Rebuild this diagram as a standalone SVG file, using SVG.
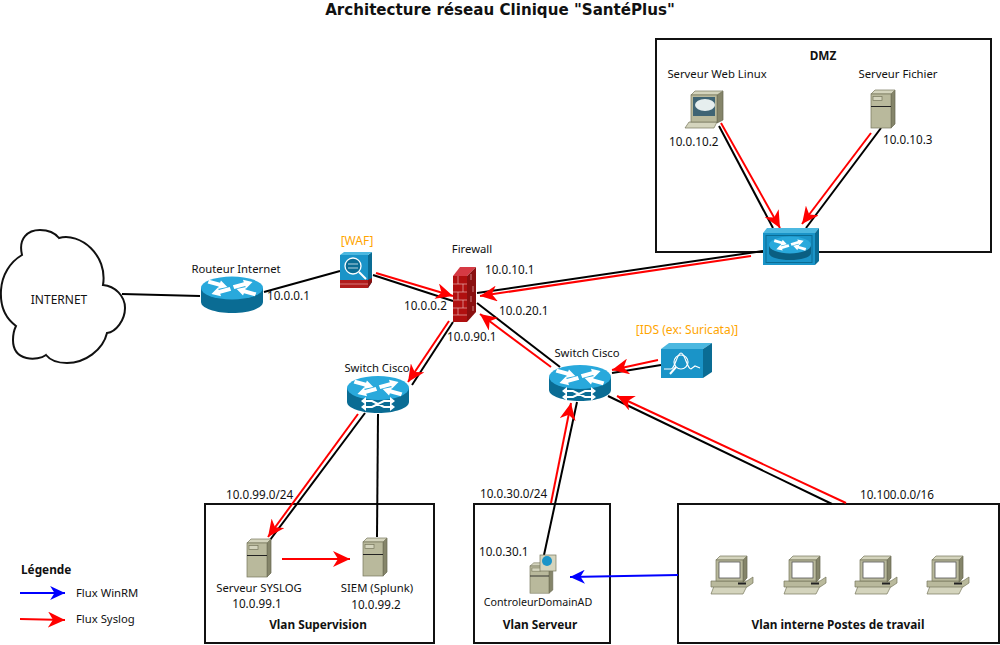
<svg xmlns="http://www.w3.org/2000/svg" xmlns:xlink="http://www.w3.org/1999/xlink" width="1000" height="645" viewBox="0 0 1000 645">
<style>
text{font-family:"Noto Sans","DejaVu Sans",sans-serif;font-size:11.300px;fill:#111}
.b{font-weight:bold;font-size:11.800px}
.o{fill:#ffa500;font-size:12px}
.n{font-size:11.700px}
.box{fill:#fff;stroke:#111;stroke-width:2}
.k{stroke:#000;stroke-width:2;fill:none}
.r{stroke:#f00;stroke-width:2;fill:none;marker-end:url(#ar)}
.u{stroke:#00f;stroke-width:2;fill:none;marker-end:url(#au)}
.t1{fill:#b9b99c;stroke:#77775c;stroke-width:.7}
.t2{fill:#d4d4bd;stroke:#77775c;stroke-width:.7}
.t3{fill:#85856a;stroke:#66664e;stroke-width:.7}
.sw{fill:none;stroke:#fff;stroke-width:2}
</style>
<defs>
<marker id="ar" viewBox="0 0 17 16" refX="17" refY="8" markerWidth="17" markerHeight="16" markerUnits="userSpaceOnUse" orient="auto"><path d="M0 0L17 8L0 16L5 8Z" fill="#f00"/></marker>
<marker id="au" viewBox="0 0 17 16" refX="17" refY="8" markerWidth="17" markerHeight="14" markerUnits="userSpaceOnUse" orient="auto"><path d="M0 0L17 8L0 16L5 8Z" fill="#00f"/></marker>
<g id="srv">
<path class="t3" d="M20 5L24 1V35L20 39Z"/>
<path class="t2" d="M0 5L4 1H24L20 5Z"/>
<rect class="t1" y="5" width="20" height="34"/>
<path d="M0 17.500H20" stroke="#222" stroke-width="1"/>
<rect class="t2" x="2" y="7.500" width="9" height="4"/>
</g>
<g id="pc">
<path class="t2" d="M3 30H36L32 38H0Z"/>
<path class="t1" d="M0 25H36L42 21V27L36 31H0Z"/>
<path class="t3" d="M32 4L36 0V22L32 26Z"/>
<path class="t2" d="M5 4L9 0H36L32 4Z"/>
<rect class="t1" x="5" y="4" width="27" height="21"/>
<rect x="8" y="6" width="21" height="16" fill="#fff" stroke="#555" stroke-width=".8"/>
<rect x="27" y="26.500" width="8" height="2" fill="#222"/>
</g>
<path id="arrows" d="M-10-2.200H1V-5L9 0L1 5V2.200H-10Z" fill="#fff"/>
<g id="rtop">
<use xlink:href="#arrows" transform="translate(-13,-4) rotate(18)"/>
<use xlink:href="#arrows" transform="translate(13,4) rotate(198)"/>
<use xlink:href="#arrows" transform="translate(11,-4) rotate(-18)"/>
<use xlink:href="#arrows" transform="translate(-11,4) rotate(162)"/>
</g>
<g id="swx">
<path class="sw" d="M-13-3H-6L6 3H13M-13 3H-6L6-3H13"/>
<path d="M-17-3L-12-7V1ZM-17 3L-12-1V7ZM17-3L12-7V1ZM17 3L12-1V7Z" fill="#fff"/>
</g>
</defs>
<text x="500" y="15" text-anchor="middle" class="b" style="font-family:'DejaVu Sans',sans-serif;font-size:15.100px">Architecture réseau Clinique "SantéPlus"</text>
<g id="dmz"><rect class="box" x="656" y="39" width="335" height="213"/><text x="823" y="60" text-anchor="middle" class="b">DMZ</text></g>
<g id="vlan-supervision"><rect class="box" x="205" y="504" width="229" height="139"/><text x="318" y="629" text-anchor="middle" class="b">Vlan Supervision</text></g>
<g id="vlan-serveur"><rect class="box" x="474" y="504" width="136" height="139"/><text x="540" y="629" text-anchor="middle" class="b">Vlan Serveur</text></g>
<g id="vlan-postes"><rect class="box" x="678" y="504" width="321" height="139"/><text x="838" y="629" text-anchor="middle" class="b">Vlan interne Postes de travail</text></g>
<g id="connectors">
<path class="k" d="M122 294L200 296"/>
<path class="k" d="M264 292L340 271"/>
<path class="k" d="M373 275L453 301"/>
<path class="k" d="M477 293L763 251"/>
<path class="k" d="M477 303L560 367"/>
<path class="k" d="M453 322L412 385"/>
<path class="k" d="M612 373L661 365"/>
<path class="k" d="M577 402L544 555"/>
<path class="k" d="M608 396L832 504"/>
<path class="k" d="M365 413L270 540"/>
<path class="k" d="M378 414L377 537"/>
<path class="k" d="M719 126L773 228"/>
<path class="k" d="M881 128L806 228"/>
<path class="r" d="M376 273L453 296"/>
<path class="r" d="M751 256L480 296"/>
<path class="r" d="M449 321L408 382"/>
<path class="r" d="M551 367L480 314"/>
<path class="r" d="M658 360L612 370"/>
<path class="r" d="M846 503L617 396"/>
<path class="r" d="M551 503L571 403"/>
<path class="r" d="M358 414L268 537"/>
<path class="r" d="M282 559L350 559"/>
<path class="r" d="M721 123L780 228"/>
<path class="r" d="M871 133L802 224"/>
<path class="u" d="M678 575L570 577"/>
</g>
<g id="internet">
<path d="M22 255C18 238 28 230 40 230C48 230 55 233 59 238C80 232 108 255 103 285C115 286 125 296 125 308C125 320 116 332 107 333C103 350 85 363 67 363C58 363 50 360 46 355C38 361 13 362 13 340C13 334 14 330 16 326C5 318 0 305 1 290C2 275 10 262 22 255Z" fill="#fff" stroke="#111" stroke-width="2"/>
<text x="59" y="304" text-anchor="middle" style="font-size:12px">INTERNET</text>
</g>
<g id="routeur-internet">
<text x="236" y="273" text-anchor="middle">Routeur Internet</text>
<path d="M201 288V302C201 308 215 313 232 313C249 313 263 308 263 302V288Z" fill="#0a6c94"/>
<ellipse cx="232" cy="288" rx="31" ry="11.500" fill="#29a9dc"/>
<use xlink:href="#rtop" transform="translate(232,288) scale(1.050,.9)"/>
<text x="267" y="300" class="n">10.0.0.1</text>
</g>
<g id="waf">
<text x="357" y="245" text-anchor="middle" class="o">[WAF]</text>
<path d="M368 255L372 252V282L368 288Z" fill="#0a6c94"/>
<path d="M340 255L344 252H372L368 255Z" fill="#4cb8e0"/>
<rect x="340" y="255" width="28" height="25" fill="#1a94c8"/>
<rect x="340" y="280" width="28" height="8" fill="#b11b1b"/>
<path d="M368 288L372 282V278L368 280Z" fill="#8a1010"/>
<path d="M340 284H368" stroke="#e6a0a0" stroke-width=".7"/>
<circle cx="353" cy="266" r="8" fill="#0a6c94" stroke="#fff" stroke-width="1.300"/>
<path d="M359 272L366 279" stroke="#fff" stroke-width="2"/>
<path d="M348 264H358M348 268H358" stroke="#fff" stroke-width=".7"/>
</g>
<g id="firewall">
<text x="472" y="253" text-anchor="middle">Firewall</text>
<path d="M453 276L460 267H476L467 276Z" fill="#d63a44"/>
<path d="M467 276L476 267V312L467 322Z" fill="#8a1010"/>
<rect x="453" y="276" width="14" height="46" fill="#b01010"/>
<path d="M453 284H467M453 292H467M453 300H467M453 308H467M453 315H467M458 276V284M463 284V292M458 292V300M463 300V308M458 308V315" stroke="#e6b0b0" stroke-width=".7"/>
<path d="M471 274V280M473 286V292M471 296V302M473 306V311" stroke="#e6b0b0" stroke-width=".7"/>
<text x="485" y="274" class="n">10.0.10.1</text>
<text x="404" y="310" class="n">10.0.0.2</text>
<text x="499" y="315" class="n">10.0.20.1</text>
<text x="447" y="341" class="n">10.0.90.1</text>
</g>
<g id="switch-supervision">
<path d="M347 388V402C347 408 361 413 378 413C395 413 409 408 409 402V388Z" fill="#0a6c94"/>
<ellipse cx="378" cy="388" rx="31" ry="12" fill="#29a9dc"/>
<use xlink:href="#rtop" transform="translate(378,388) scale(1.050,.9)"/>
<use xlink:href="#swx" transform="translate(378,404)"/>
<text x="377" y="372" text-anchor="middle">Switch Cisco</text>
</g>
<g id="switch-interne">
<path d="M549 377V390C549 396 563 401 580 401C597 401 611 396 611 390V377Z" fill="#0a6c94"/>
<ellipse cx="580" cy="377" rx="31" ry="12" fill="#29a9dc"/>
<use xlink:href="#rtop" transform="translate(580,377) scale(1.050,.9)"/>
<use xlink:href="#swx" transform="translate(579,394)"/>
<text x="587" y="357" text-anchor="middle">Switch Cisco</text>
</g>
<g id="ids">
<text x="687" y="334" text-anchor="middle" class="o">[IDS (ex: Suricata)]</text>
<path d="M661 349L669 343H712L703 349Z" fill="#4cb8e0"/>
<path d="M703 349L712 343V372L703 378Z" fill="#0a6c94"/>
<rect x="661" y="349" width="42" height="29" fill="#1a94c8"/>
<path d="M664 369H671C675 369 677 353 681 353C685 353 687 369 691 369L695 366L700 368" fill="none" stroke="#fff" stroke-width="1.200"/>
<circle cx="681" cy="362" r="7" fill="none" stroke="#fff" stroke-width="1.200"/>
<path d="M676 367L670 374" stroke="#fff" stroke-width="2"/>
</g>
<g id="switch-dmz">
<path d="M763 233L767 228H819L815 233Z" fill="#4cb8e0"/>
<path d="M815 233L819 228V261L815 265Z" fill="#0a6c94"/>
<rect x="763" y="233" width="52" height="32" fill="#1a94c8"/>
<rect x="766" y="235.500" width="46" height="27" fill="none" stroke="#0a6c94" stroke-width="1"/>
<path d="M769 245V253C769 257 778 260 790 260C802 260 811 257 811 253V245Z" fill="#0a5f82"/>
<ellipse cx="790" cy="245" rx="21" ry="8.500" fill="#29a9dc"/>
<use xlink:href="#rtop" transform="translate(790,245) scale(.7,.62)"/>
</g>
<g id="serveur-web">
<text x="717" y="78" text-anchor="middle">Serveur Web Linux</text>
<path class="t2" d="M689 122H717L714 128H685Z"/>
<path class="t3" d="M717 95L723 91V120L717 123Z"/>
<path class="t2" d="M691 95L695 91H723L717 95Z"/>
<rect class="t1" x="691" y="95" width="26" height="27"/>
<rect x="693" y="97" width="22" height="19" fill="#3f6474"/>
<ellipse cx="705" cy="105" rx="10" ry="6" fill="#e6eeee"/>
<text x="669" y="146" class="n">10.0.10.2</text>
</g>
<g id="serveur-fichier">
<text x="898" y="78" text-anchor="middle">Serveur Fichier</text>
<use xlink:href="#srv" transform="translate(871,89)"/>
<text x="883" y="144" class="n">10.0.10.3</text>
</g>
<g id="syslog">
<use xlink:href="#srv" transform="translate(247,538)"/>
<text x="259" y="592" text-anchor="middle">Serveur SYSLOG</text>
<text x="257" y="608" text-anchor="middle" class="n">10.0.99.1</text>
</g>
<g id="siem">
<use xlink:href="#srv" transform="translate(363,537)"/>
<text x="377" y="592" text-anchor="middle">SIEM (Splunk)</text>
<text x="376" y="609" text-anchor="middle" class="n">10.0.99.2</text>
</g>
<g id="ad">
<text x="479" y="556" class="n">10.0.30.1</text>
<use xlink:href="#srv" transform="translate(530,562) scale(.95,.8)"/>
<rect x="540" y="555" width="16" height="16" fill="#d4d4bd" stroke="#77775c" stroke-width=".7"/>
<circle cx="547" cy="561" r="5" fill="#1a94c8"/>
<text x="538" y="606" text-anchor="middle" style="font-size:10.700px">ControleurDomainAD</text>
</g>
<g id="postes">
<use xlink:href="#pc" transform="translate(711,556)"/>
<use xlink:href="#pc" transform="translate(784,556)"/>
<use xlink:href="#pc" transform="translate(855,556)"/>
<use xlink:href="#pc" transform="translate(927,556)"/>
<text x="860" y="499" class="n">10.100.0.0/16</text>
</g>
<g id="labels">
<text x="226" y="499" class="n">10.0.99.0/24</text>
<text x="480" y="498" class="n">10.0.30.0/24</text>
</g>
<g id="legende">
<text x="21" y="574" class="b">Légende</text>
<path class="u" d="M20 593L65 593"/>
<text x="76" y="597">Flux WinRM</text>
<path class="r" d="M20 619L65 620"/>
<text x="76" y="623">Flux Syslog</text>
</g>
</svg>
